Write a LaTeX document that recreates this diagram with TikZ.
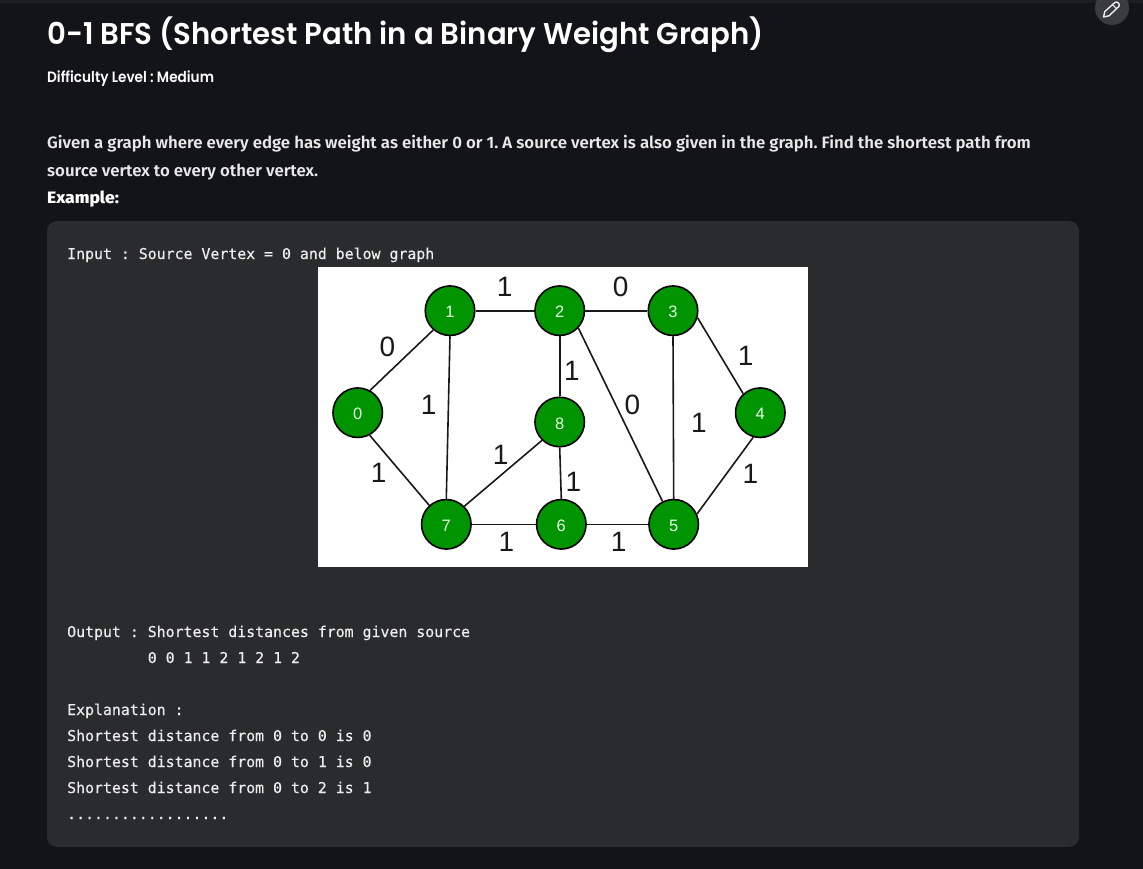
\documentclass[tikz,border=0pt]{standalone}
\usepackage{fontspec}
\setmainfont{Liberation Sans}
\newfontfamily\titlef[FakeStretch=0.973]{Poppins SemiBold}
\newfontfamily\subf[FakeStretch=0.91]{Poppins SemiBold}
\newfontfamily\bodyf[FakeStretch=1.018]{Fira Sans SemiBold}
\newfontfamily\boldf[FakeStretch=1.06]{Fira Sans ExtraBold}
\newfontfamily\monof[FakeBold=0.35]{DejaVu Sans Mono}
\frenchspacing
\definecolor{pagebg}{HTML}{131419}
\definecolor{topbar}{HTML}{1E1F24}
\definecolor{cardbg}{HTML}{2A2B2D}
\definecolor{btnbg}{HTML}{3A3B40}
\definecolor{gfg}{HTML}{009400}
\definecolor{bodyc}{HTML}{E8E8E8}
\definecolor{monoc}{HTML}{EDEDED}
\tikzset{
  x=1pt,y=-1pt,
  vertex/.style={circle,draw=black,line width=1.6pt,fill=gfg,minimum size=49.5pt,inner sep=0pt,text height=14pt,text depth=0pt,text=white!90!green,font=\fontsize{16.5}{16.5}\selectfont},
  edge/.style={draw=black!90,line width=1.6pt},
  weight/.style={inner sep=0pt,text=black!90,font=\fontsize{28}{28}\selectfont},
  txt/.style={anchor=base west,inner sep=0pt,text=bodyc},
  code/.style={txt,text=monoc,font=\monof\fontsize{14.87}{15}\selectfont},
}
\begin{document}
\begin{tikzpicture}
\useasboundingbox (0,0) rectangle (1143,869);
\fill[pagebg] (0,0) rectangle (1143,869);
\fill[topbar] (0,0) rectangle (1143,3);
\fill[btnbg] (1112,8) circle (17);
\draw[white!92!black,line width=1.4pt,line join=round] (1103.5,17) -- (1104.8,11.5) -- (1115,2.4) .. controls (1117,0.8) and (1120.5,4.2) .. (1119,6.3) -- (1109,15.8) -- cycle;
\draw[white!92!black,line width=1.1pt] (1112.5,4.6) -- (1116.8,9);
\node[txt,text=white,font=\titlef\fontsize{30}{30}\selectfont] (title) at (47,45) {0-1 BFS (Shortest Path in a Binary Weight Graph)};
\node[txt,text=white,font=\subf\fontsize{15}{15}\selectfont] (level) at (47,82.5) {Difficulty Level : Medium};
\node[txt,font=\bodyf\fontsize{16.5}{16.5}\selectfont] (p1) at (47,148.5) {Given a graph where every edge has weight as either 0 or 1. A source vertex is also given in the graph. Find the shortest path from};
\node[txt,font=\bodyf\fontsize{16.5}{16.5}\selectfont] (p2) at (47,176.5) {source vertex to every other vertex.};
\node[txt,text=white,font=\boldf\fontsize{16.5}{16.5}\selectfont] (ex) at (47,203.5) {Example:};
\fill[cardbg,rounded corners=10pt] (47,221) rectangle (1079,847);
\node[code] (in) at (67,259) {Input : Source Vertex = 0 and below graph};
\fill[white] (318,267) rectangle (808,567);
\node[vertex] (v0) at (357.7,412.7) {0};
\node[vertex] (v1) at (450,310.7) {1};
\node[vertex] (v2) at (559.7,310.7) {2};
\node[vertex] (v3) at (673,310.7) {3};
\node[vertex] (v4) at (760.3,412.7) {4};
\node[vertex] (v5) at (673.7,524.3) {5};
\node[vertex] (v6) at (561.3,524.3) {6};
\node[vertex] (v7) at (446.3,524.3) {7};
\node[vertex] (v8) at (559.7,422) {8};
\draw[edge] (v0.61)--(v1.229);
\draw[edge] (v0.-62)--(v7.132);
\draw[edge] (v1.east)--(v2.west);
\draw[edge] (v1.south)--(v7.north);
\draw[edge] (v2.east)--(v3.west);
\draw[edge] (v2.south)--(v8.north);
\draw[edge] (v2.-43)--(v5.116);
\draw[edge] (v3.-16)--(v4.132);
\draw[edge] (v3.south)--(v5.north);
\draw[edge] (v4.-106)--(v5.24);
\draw[edge] (v5.west)--(v6.east);
\draw[edge] (v6.west)--(v7.east);
\draw[edge] (v6.north)--(v8.south);
\draw[edge] (v7.45)--(v8.226);
\node[weight] (w1) at (504.7,287.3) {1};
\node[weight] (w2) at (620.7,287.3) {0};
\node[weight] (w3) at (387.3,346.7) {0};
\node[weight] (w4) at (428.7,405) {1};
\node[weight] (w5) at (572,371) {1};
\node[weight] (w6) at (632.3,405) {0};
\node[weight] (w7) at (699,423.3) {1};
\node[weight] (w8) at (745.7,355.7) {1};
\node[weight] (w9) at (378.7,473.3) {1};
\node[weight] (w10) at (500.7,455) {1};
\node[weight] (w11) at (573.3,481.7) {1};
\node[weight] (w12) at (750.3,473.7) {1};
\node[weight] (w13) at (506.3,541.7) {1};
\node[weight] (w14) at (618.7,541.7) {1};
\node[code] (o1) at (67,637) {Output : Shortest distances from given source};
\node[code] (o2) at (147.6,663) {0 0 1 1 2 1 2 1 2};
\node[code] (e0) at (67,715) {Explanation :};
\node[code] (e1) at (67,741) {Shortest distance from 0 to 0 is 0};
\node[code] (e2) at (67,767) {Shortest distance from 0 to 1 is 0};
\node[code] (e3) at (67,793) {Shortest distance from 0 to 2 is 1};
\node[code] (e4) at (67,819) {..................};
\end{tikzpicture}
\end{document}
